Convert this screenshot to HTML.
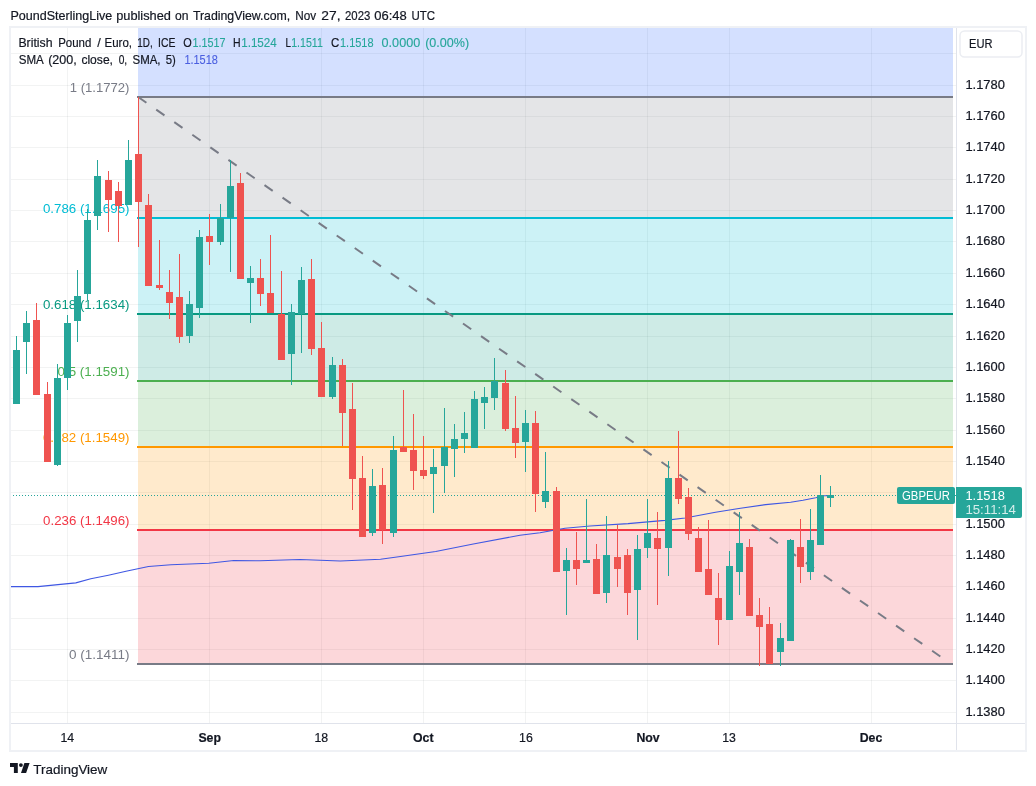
<!DOCTYPE html>
<html lang="en"><head><meta charset="utf-8"><title>GBPEUR chart</title>
<style>html,body{margin:0;padding:0;background:#fff;}body{width:1036px;height:786px;overflow:hidden;position:relative;font-family:"Liberation Sans", Arial, sans-serif;}svg{position:absolute;left:0;top:0;display:block;}text{font-family:"Liberation Sans", Arial, sans-serif;}</style></head><body>
<svg width="1036" height="786" viewBox="0 0 1036 786">
<rect x="0" y="0" width="1036" height="786" fill="#ffffff"/>
<g shape-rendering="crispEdges" stroke="#2a2e39" stroke-opacity="0.06" stroke-width="1">
<line x1="67.5" y1="27" x2="67.5" y2="723"/>
<line x1="209.5" y1="27" x2="209.5" y2="723"/>
<line x1="321.5" y1="27" x2="321.5" y2="723"/>
<line x1="423.5" y1="27" x2="423.5" y2="723"/>
<line x1="525.5" y1="27" x2="525.5" y2="723"/>
<line x1="647.5" y1="27" x2="647.5" y2="723"/>
<line x1="729.5" y1="27" x2="729.5" y2="723"/>
<line x1="871.5" y1="27" x2="871.5" y2="723"/>
<line x1="11" y1="53.5" x2="956" y2="53.5"/>
<line x1="11" y1="85.5" x2="956" y2="85.5"/>
<line x1="11" y1="116.5" x2="956" y2="116.5"/>
<line x1="11" y1="147.5" x2="956" y2="147.5"/>
<line x1="11" y1="179.5" x2="956" y2="179.5"/>
<line x1="11" y1="210.5" x2="956" y2="210.5"/>
<line x1="11" y1="241.5" x2="956" y2="241.5"/>
<line x1="11" y1="273.5" x2="956" y2="273.5"/>
<line x1="11" y1="304.5" x2="956" y2="304.5"/>
<line x1="11" y1="336.5" x2="956" y2="336.5"/>
<line x1="11" y1="367.5" x2="956" y2="367.5"/>
<line x1="11" y1="398.5" x2="956" y2="398.5"/>
<line x1="11" y1="430.5" x2="956" y2="430.5"/>
<line x1="11" y1="461.5" x2="956" y2="461.5"/>
<line x1="11" y1="492.5" x2="956" y2="492.5"/>
<line x1="11" y1="524.5" x2="956" y2="524.5"/>
<line x1="11" y1="555.5" x2="956" y2="555.5"/>
<line x1="11" y1="586.5" x2="956" y2="586.5"/>
<line x1="11" y1="618.5" x2="956" y2="618.5"/>
<line x1="11" y1="649.5" x2="956" y2="649.5"/>
<line x1="11" y1="680.5" x2="956" y2="680.5"/>
<line x1="11" y1="712.5" x2="956" y2="712.5"/>
</g>
<g shape-rendering="crispEdges">
<rect x="138" y="27" width="815" height="70" fill="#2962ff" fill-opacity="0.2"/>
<rect x="138" y="97" width="815" height="121" fill="#787b86" fill-opacity="0.2"/>
<rect x="138" y="218" width="815" height="96" fill="#00bcd4" fill-opacity="0.2"/>
<rect x="138" y="314" width="815" height="67" fill="#089981" fill-opacity="0.2"/>
<rect x="138" y="381" width="815" height="66" fill="#4caf50" fill-opacity="0.2"/>
<rect x="138" y="447" width="815" height="83" fill="#ff9800" fill-opacity="0.2"/>
<rect x="138" y="530" width="815" height="133.70000000000005" fill="#f23645" fill-opacity="0.2"/>
</g>
<g shape-rendering="crispEdges" stroke-width="2">
<line x1="137" y1="97" x2="953" y2="97" stroke="#787b86"/>
<line x1="137" y1="218" x2="953" y2="218" stroke="#00bcd4"/>
<line x1="137" y1="314" x2="953" y2="314" stroke="#089981"/>
<line x1="137" y1="381" x2="953" y2="381" stroke="#4caf50"/>
<line x1="137" y1="447" x2="953" y2="447" stroke="#ff9800"/>
<line x1="137" y1="530" x2="953" y2="530" stroke="#f23645"/>
<line x1="137" y1="664" x2="953" y2="664" stroke="#787b86"/>
</g>
<line x1="138.2" y1="97" x2="949.5" y2="662.9" stroke="#787b86" stroke-width="2" stroke-dasharray="10 12"/>
<text x="69.7" y="92.3" font-size="12.3" fill="#787b86" textLength="59.8" lengthAdjust="spacingAndGlyphs">1 (1.1772)</text>
<text x="42.9" y="213.3" font-size="12.3" fill="#00bcd4" textLength="86.6" lengthAdjust="spacingAndGlyphs">0.786 (1.1695)</text>
<text x="42.9" y="309.3" font-size="12.3" fill="#089981" textLength="86.6" lengthAdjust="spacingAndGlyphs">0.618 (1.1634)</text>
<text x="57.6" y="376.3" font-size="12.3" fill="#4caf50" textLength="71.9" lengthAdjust="spacingAndGlyphs">0.5 (1.1591)</text>
<text x="42.9" y="442.3" font-size="12.3" fill="#ff9800" textLength="86.6" lengthAdjust="spacingAndGlyphs">0.382 (1.1549)</text>
<text x="43.1" y="525.3" font-size="12.3" fill="#f23645" textLength="86.4" lengthAdjust="spacingAndGlyphs">0.236 (1.1496)</text>
<text x="69" y="659.2" font-size="12.3" fill="#787b86" textLength="60.5" lengthAdjust="spacingAndGlyphs">0 (1.1411)</text>
<line x1="13" y1="495.5" x2="956" y2="495.5" stroke="#26a69a" stroke-width="1" stroke-dasharray="1 2" shape-rendering="crispEdges"/>
<polyline fill="none" stroke="#3f57e3" stroke-width="1.1" stroke-linejoin="round" points="10.5,586.6 38,586.6 58,584.6 75.8,582.9 90.8,578.8 108.4,575.2 126,571.2 148.5,566.5 171,564.7 208.8,563.2 233.8,560.5 260,560.8 300,559.5 340.3,561 380.5,559.3 400.5,556.5 435.7,551.5 473.3,544 520,535.2 540,532.7 565,528.2 590,526 628,523.6 665,520.4 685,518.0 715.5,512.2 740.5,508.3 765.6,504.6 790.6,502.3 803,500.3 815.7,497.8 824.4,495.8 830.7,495.8"/>
<g shape-rendering="crispEdges">
<rect x="16" y="336" width="1" height="68" fill="#26a69a"/>
<rect x="13" y="350" width="7" height="54" fill="#26a69a"/>
<rect x="26" y="311" width="1" height="63" fill="#26a69a"/>
<rect x="23" y="323" width="7" height="19" fill="#26a69a"/>
<rect x="36" y="303" width="1" height="92" fill="#ef5350"/>
<rect x="33" y="320" width="7" height="75" fill="#ef5350"/>
<rect x="47" y="382" width="1" height="80" fill="#ef5350"/>
<rect x="44" y="394" width="7" height="68" fill="#ef5350"/>
<rect x="57" y="364" width="1" height="102" fill="#26a69a"/>
<rect x="54" y="378" width="7" height="87" fill="#26a69a"/>
<rect x="67" y="315" width="1" height="75" fill="#26a69a"/>
<rect x="64" y="323" width="7" height="55" fill="#26a69a"/>
<rect x="77" y="270" width="1" height="72" fill="#26a69a"/>
<rect x="74" y="296" width="7" height="25" fill="#26a69a"/>
<rect x="87" y="209" width="1" height="91" fill="#26a69a"/>
<rect x="84" y="220" width="7" height="74" fill="#26a69a"/>
<rect x="97" y="160" width="1" height="70" fill="#26a69a"/>
<rect x="94" y="176" width="7" height="40" fill="#26a69a"/>
<rect x="108" y="171" width="1" height="61" fill="#ef5350"/>
<rect x="105" y="180" width="7" height="20" fill="#ef5350"/>
<rect x="118" y="182" width="1" height="60" fill="#ef5350"/>
<rect x="115" y="191" width="7" height="15" fill="#ef5350"/>
<rect x="128" y="140" width="1" height="65" fill="#26a69a"/>
<rect x="125" y="160" width="7" height="45" fill="#26a69a"/>
<rect x="138" y="97" width="1" height="150" fill="#ef5350"/>
<rect x="135" y="154" width="7" height="48" fill="#ef5350"/>
<rect x="148" y="194" width="1" height="92" fill="#ef5350"/>
<rect x="145" y="205" width="7" height="81" fill="#ef5350"/>
<rect x="159" y="240" width="1" height="50" fill="#ef5350"/>
<rect x="156" y="285" width="7" height="3" fill="#ef5350"/>
<rect x="169" y="270" width="1" height="49" fill="#ef5350"/>
<rect x="166" y="292" width="7" height="11" fill="#ef5350"/>
<rect x="179" y="254" width="1" height="89" fill="#ef5350"/>
<rect x="176" y="297" width="7" height="40" fill="#ef5350"/>
<rect x="189" y="291" width="1" height="52" fill="#26a69a"/>
<rect x="186" y="304" width="7" height="32" fill="#26a69a"/>
<rect x="199" y="230" width="1" height="88" fill="#26a69a"/>
<rect x="196" y="237" width="7" height="71" fill="#26a69a"/>
<rect x="209" y="214" width="1" height="51" fill="#ef5350"/>
<rect x="206" y="236" width="7" height="6" fill="#ef5350"/>
<rect x="220" y="204" width="1" height="41" fill="#26a69a"/>
<rect x="217" y="218" width="7" height="24" fill="#26a69a"/>
<rect x="230" y="160" width="1" height="112" fill="#26a69a"/>
<rect x="227" y="186" width="7" height="32" fill="#26a69a"/>
<rect x="240" y="173" width="1" height="106" fill="#ef5350"/>
<rect x="237" y="183" width="7" height="96" fill="#ef5350"/>
<rect x="250" y="266" width="1" height="57" fill="#26a69a"/>
<rect x="247" y="278" width="7" height="5" fill="#26a69a"/>
<rect x="260" y="259" width="1" height="47" fill="#ef5350"/>
<rect x="257" y="278" width="7" height="16" fill="#ef5350"/>
<rect x="270" y="235" width="1" height="78" fill="#ef5350"/>
<rect x="267" y="293" width="7" height="20" fill="#ef5350"/>
<rect x="281" y="271" width="1" height="89" fill="#ef5350"/>
<rect x="278" y="314" width="7" height="46" fill="#ef5350"/>
<rect x="291" y="304" width="1" height="81" fill="#26a69a"/>
<rect x="288" y="312" width="7" height="42" fill="#26a69a"/>
<rect x="301" y="267" width="1" height="86" fill="#26a69a"/>
<rect x="298" y="280" width="7" height="34" fill="#26a69a"/>
<rect x="311" y="259" width="1" height="96" fill="#ef5350"/>
<rect x="308" y="279" width="7" height="70" fill="#ef5350"/>
<rect x="321" y="322" width="1" height="75" fill="#ef5350"/>
<rect x="318" y="348" width="7" height="49" fill="#ef5350"/>
<rect x="332" y="357" width="1" height="42" fill="#26a69a"/>
<rect x="329" y="365" width="7" height="32" fill="#26a69a"/>
<rect x="342" y="359" width="1" height="87" fill="#ef5350"/>
<rect x="339" y="365" width="7" height="48" fill="#ef5350"/>
<rect x="352" y="383" width="1" height="127" fill="#ef5350"/>
<rect x="349" y="409" width="7" height="70" fill="#ef5350"/>
<rect x="362" y="456" width="1" height="81" fill="#ef5350"/>
<rect x="359" y="478" width="7" height="59" fill="#ef5350"/>
<rect x="372" y="469" width="1" height="67" fill="#26a69a"/>
<rect x="369" y="486" width="7" height="47" fill="#26a69a"/>
<rect x="382" y="468" width="1" height="76" fill="#ef5350"/>
<rect x="379" y="485" width="7" height="45" fill="#ef5350"/>
<rect x="393" y="436" width="1" height="101" fill="#26a69a"/>
<rect x="390" y="450" width="7" height="83" fill="#26a69a"/>
<rect x="403" y="390" width="1" height="62" fill="#ef5350"/>
<rect x="400" y="447" width="7" height="5" fill="#ef5350"/>
<rect x="413" y="414" width="1" height="76" fill="#ef5350"/>
<rect x="410" y="450" width="7" height="21" fill="#ef5350"/>
<rect x="423" y="436" width="1" height="43" fill="#ef5350"/>
<rect x="420" y="470" width="7" height="6" fill="#ef5350"/>
<rect x="433" y="449" width="1" height="64" fill="#26a69a"/>
<rect x="430" y="467" width="7" height="7" fill="#26a69a"/>
<rect x="444" y="408" width="1" height="85" fill="#26a69a"/>
<rect x="441" y="447" width="7" height="19" fill="#26a69a"/>
<rect x="454" y="424" width="1" height="53" fill="#26a69a"/>
<rect x="451" y="439" width="7" height="10" fill="#26a69a"/>
<rect x="464" y="412" width="1" height="41" fill="#26a69a"/>
<rect x="461" y="433" width="7" height="6" fill="#26a69a"/>
<rect x="474" y="391" width="1" height="57" fill="#26a69a"/>
<rect x="471" y="399" width="7" height="49" fill="#26a69a"/>
<rect x="484" y="387" width="1" height="42" fill="#26a69a"/>
<rect x="481" y="397" width="7" height="6" fill="#26a69a"/>
<rect x="494" y="358" width="1" height="52" fill="#26a69a"/>
<rect x="491" y="381" width="7" height="17" fill="#26a69a"/>
<rect x="505" y="370" width="1" height="61" fill="#ef5350"/>
<rect x="502" y="383" width="7" height="46" fill="#ef5350"/>
<rect x="515" y="396" width="1" height="62" fill="#ef5350"/>
<rect x="512" y="428" width="7" height="15" fill="#ef5350"/>
<rect x="525" y="410" width="1" height="62" fill="#26a69a"/>
<rect x="522" y="423" width="7" height="19" fill="#26a69a"/>
<rect x="535" y="411" width="1" height="101" fill="#ef5350"/>
<rect x="532" y="423" width="7" height="71" fill="#ef5350"/>
<rect x="545" y="452" width="1" height="56" fill="#26a69a"/>
<rect x="542" y="491" width="7" height="11" fill="#26a69a"/>
<rect x="556" y="487" width="1" height="85" fill="#ef5350"/>
<rect x="553" y="491" width="7" height="81" fill="#ef5350"/>
<rect x="566" y="548" width="1" height="67" fill="#26a69a"/>
<rect x="563" y="560" width="7" height="11" fill="#26a69a"/>
<rect x="576" y="532" width="1" height="53" fill="#ef5350"/>
<rect x="573" y="560" width="7" height="9" fill="#ef5350"/>
<rect x="586" y="499" width="1" height="64" fill="#26a69a"/>
<rect x="583" y="560" width="7" height="3" fill="#26a69a"/>
<rect x="596" y="544" width="1" height="50" fill="#ef5350"/>
<rect x="593" y="559" width="7" height="35" fill="#ef5350"/>
<rect x="606" y="516" width="1" height="87" fill="#26a69a"/>
<rect x="603" y="555" width="7" height="38" fill="#26a69a"/>
<rect x="617" y="525" width="1" height="62" fill="#ef5350"/>
<rect x="614" y="557" width="7" height="12" fill="#ef5350"/>
<rect x="627" y="549" width="1" height="66" fill="#ef5350"/>
<rect x="624" y="555" width="7" height="38" fill="#ef5350"/>
<rect x="637" y="535" width="1" height="105" fill="#26a69a"/>
<rect x="634" y="549" width="7" height="41" fill="#26a69a"/>
<rect x="647" y="499" width="1" height="59" fill="#26a69a"/>
<rect x="644" y="533" width="7" height="15" fill="#26a69a"/>
<rect x="657" y="512" width="1" height="93" fill="#ef5350"/>
<rect x="654" y="538" width="7" height="11" fill="#ef5350"/>
<rect x="668" y="461" width="1" height="115" fill="#26a69a"/>
<rect x="665" y="478" width="7" height="70" fill="#26a69a"/>
<rect x="678" y="431" width="1" height="73" fill="#ef5350"/>
<rect x="675" y="478" width="7" height="21" fill="#ef5350"/>
<rect x="688" y="488" width="1" height="52" fill="#ef5350"/>
<rect x="685" y="497" width="7" height="37" fill="#ef5350"/>
<rect x="698" y="527" width="1" height="45" fill="#ef5350"/>
<rect x="695" y="538" width="7" height="34" fill="#ef5350"/>
<rect x="708" y="520" width="1" height="75" fill="#ef5350"/>
<rect x="705" y="569" width="7" height="26" fill="#ef5350"/>
<rect x="718" y="573" width="1" height="72" fill="#ef5350"/>
<rect x="715" y="598" width="7" height="22" fill="#ef5350"/>
<rect x="729" y="551" width="1" height="69" fill="#26a69a"/>
<rect x="726" y="566" width="7" height="54" fill="#26a69a"/>
<rect x="739" y="512" width="1" height="83" fill="#26a69a"/>
<rect x="736" y="543" width="7" height="29" fill="#26a69a"/>
<rect x="749" y="539" width="1" height="77" fill="#ef5350"/>
<rect x="746" y="547" width="7" height="69" fill="#ef5350"/>
<rect x="759" y="598" width="1" height="68" fill="#ef5350"/>
<rect x="756" y="615" width="7" height="12" fill="#ef5350"/>
<rect x="769" y="607" width="1" height="57" fill="#ef5350"/>
<rect x="766" y="624" width="7" height="40" fill="#ef5350"/>
<rect x="780" y="623" width="1" height="43" fill="#26a69a"/>
<rect x="777" y="638" width="7" height="14" fill="#26a69a"/>
<rect x="790" y="539" width="1" height="102" fill="#26a69a"/>
<rect x="787" y="540" width="7" height="101" fill="#26a69a"/>
<rect x="800" y="519" width="1" height="64" fill="#ef5350"/>
<rect x="797" y="547" width="7" height="20" fill="#ef5350"/>
<rect x="810" y="509" width="1" height="71" fill="#26a69a"/>
<rect x="807" y="540" width="7" height="32" fill="#26a69a"/>
<rect x="820" y="475" width="1" height="70" fill="#26a69a"/>
<rect x="817" y="495" width="7" height="50" fill="#26a69a"/>
<rect x="830" y="486" width="1" height="21" fill="#26a69a"/>
<rect x="827" y="495" width="7" height="3" fill="#26a69a"/>
</g>
<rect x="10" y="27" width="1016" height="724" fill="none" stroke="#eff1f5" stroke-width="2" shape-rendering="crispEdges"/>
<g shape-rendering="crispEdges" fill="none" stroke="#e0e3eb" stroke-width="1">
<line x1="956.5" y1="28" x2="956.5" y2="750"/>
<line x1="11" y1="723.5" x2="1025" y2="723.5"/>
</g>
<text x="965.4" y="89" font-size="12.3" fill="#131722" stroke="#131722" stroke-width="0.2" textLength="39.5" lengthAdjust="spacingAndGlyphs">1.1780</text>
<text x="965.4" y="120" font-size="12.3" fill="#131722" stroke="#131722" stroke-width="0.2" textLength="39.5" lengthAdjust="spacingAndGlyphs">1.1760</text>
<text x="965.4" y="151" font-size="12.3" fill="#131722" stroke="#131722" stroke-width="0.2" textLength="39.5" lengthAdjust="spacingAndGlyphs">1.1740</text>
<text x="965.4" y="183" font-size="12.3" fill="#131722" stroke="#131722" stroke-width="0.2" textLength="39.5" lengthAdjust="spacingAndGlyphs">1.1720</text>
<text x="965.4" y="214" font-size="12.3" fill="#131722" stroke="#131722" stroke-width="0.2" textLength="39.5" lengthAdjust="spacingAndGlyphs">1.1700</text>
<text x="965.4" y="245" font-size="12.3" fill="#131722" stroke="#131722" stroke-width="0.2" textLength="39.5" lengthAdjust="spacingAndGlyphs">1.1680</text>
<text x="965.4" y="277" font-size="12.3" fill="#131722" stroke="#131722" stroke-width="0.2" textLength="39.5" lengthAdjust="spacingAndGlyphs">1.1660</text>
<text x="965.4" y="308" font-size="12.3" fill="#131722" stroke="#131722" stroke-width="0.2" textLength="39.5" lengthAdjust="spacingAndGlyphs">1.1640</text>
<text x="965.4" y="340" font-size="12.3" fill="#131722" stroke="#131722" stroke-width="0.2" textLength="39.5" lengthAdjust="spacingAndGlyphs">1.1620</text>
<text x="965.4" y="371" font-size="12.3" fill="#131722" stroke="#131722" stroke-width="0.2" textLength="39.5" lengthAdjust="spacingAndGlyphs">1.1600</text>
<text x="965.4" y="402" font-size="12.3" fill="#131722" stroke="#131722" stroke-width="0.2" textLength="39.5" lengthAdjust="spacingAndGlyphs">1.1580</text>
<text x="965.4" y="434" font-size="12.3" fill="#131722" stroke="#131722" stroke-width="0.2" textLength="39.5" lengthAdjust="spacingAndGlyphs">1.1560</text>
<text x="965.4" y="465" font-size="12.3" fill="#131722" stroke="#131722" stroke-width="0.2" textLength="39.5" lengthAdjust="spacingAndGlyphs">1.1540</text>
<text x="965.4" y="496" font-size="12.3" fill="#131722" stroke="#131722" stroke-width="0.2" textLength="39.5" lengthAdjust="spacingAndGlyphs">1.1520</text>
<text x="965.4" y="528" font-size="12.3" fill="#131722" stroke="#131722" stroke-width="0.2" textLength="39.5" lengthAdjust="spacingAndGlyphs">1.1500</text>
<text x="965.4" y="559" font-size="12.3" fill="#131722" stroke="#131722" stroke-width="0.2" textLength="39.5" lengthAdjust="spacingAndGlyphs">1.1480</text>
<text x="965.4" y="590" font-size="12.3" fill="#131722" stroke="#131722" stroke-width="0.2" textLength="39.5" lengthAdjust="spacingAndGlyphs">1.1460</text>
<text x="965.4" y="622" font-size="12.3" fill="#131722" stroke="#131722" stroke-width="0.2" textLength="39.5" lengthAdjust="spacingAndGlyphs">1.1440</text>
<text x="965.4" y="653" font-size="12.3" fill="#131722" stroke="#131722" stroke-width="0.2" textLength="39.5" lengthAdjust="spacingAndGlyphs">1.1420</text>
<text x="965.4" y="684" font-size="12.3" fill="#131722" stroke="#131722" stroke-width="0.2" textLength="39.5" lengthAdjust="spacingAndGlyphs">1.1400</text>
<text x="965.4" y="716" font-size="12.3" fill="#131722" stroke="#131722" stroke-width="0.2" textLength="39.5" lengthAdjust="spacingAndGlyphs">1.1380</text>
<rect x="960" y="31" width="62" height="26" rx="4.5" ry="4.5" fill="#fff" stroke="#ebedf2" stroke-width="1.5"/>
<text x="969" y="48.3" font-size="12.3" fill="#131722" stroke="#131722" stroke-width="0.2" textLength="23.5" lengthAdjust="spacingAndGlyphs">EUR</text>
<rect x="897" y="487" width="58" height="17" rx="2" fill="#26a69a"/>
<text x="902" y="499.8" font-size="12.3" fill="#ffffff" textLength="48" lengthAdjust="spacingAndGlyphs">GBPEUR</text>
<path d="M956 487H1020a2 2 0 0 1 2 2V516a2 2 0 0 1-2 2H956z" fill="#26a69a"/>
<text x="965.4" y="499.8" font-size="12.3" fill="#ffffff" textLength="39.5" lengthAdjust="spacingAndGlyphs">1.1518</text>
<text x="965.4" y="513.6" font-size="12.3" fill="#ffffff" fill-opacity="0.8" textLength="50.5" lengthAdjust="spacingAndGlyphs">15:11:14</text>
<text x="67.3" y="742" font-size="12.3" text-anchor="middle" fill="#131722" stroke="#131722" stroke-width="0.2">14</text>
<text x="209.7" y="742" font-size="12.3" text-anchor="middle" fill="#131722" stroke="#131722" stroke-width="0.2" font-weight="bold">Sep</text>
<text x="321.3" y="742" font-size="12.3" text-anchor="middle" fill="#131722" stroke="#131722" stroke-width="0.2">18</text>
<text x="423.3" y="742" font-size="12.3" text-anchor="middle" fill="#131722" stroke="#131722" stroke-width="0.2" font-weight="bold">Oct</text>
<text x="525.9" y="742" font-size="12.3" text-anchor="middle" fill="#131722" stroke="#131722" stroke-width="0.2">16</text>
<text x="648" y="742" font-size="12.3" text-anchor="middle" fill="#131722" stroke="#131722" stroke-width="0.2" font-weight="bold">Nov</text>
<text x="729" y="742" font-size="12.3" text-anchor="middle" fill="#131722" stroke="#131722" stroke-width="0.2">13</text>
<text x="871" y="742" font-size="12.3" text-anchor="middle" fill="#131722" stroke="#131722" stroke-width="0.2" font-weight="bold">Dec</text>
<text x="10.5" y="19.7" font-size="12.6" fill="#131722" stroke="#131722" stroke-width="0.2" textLength="101.7" lengthAdjust="spacingAndGlyphs">PoundSterlingLive</text>
<text x="116.2" y="19.7" font-size="12.6" fill="#131722" stroke="#131722" stroke-width="0.2" textLength="54.7" lengthAdjust="spacingAndGlyphs">published</text>
<text x="175" y="19.7" font-size="12.6" fill="#131722" stroke="#131722" stroke-width="0.2" textLength="13.5" lengthAdjust="spacingAndGlyphs">on</text>
<text x="192.9" y="19.7" font-size="12.6" fill="#131722" stroke="#131722" stroke-width="0.2" textLength="97.3" lengthAdjust="spacingAndGlyphs">TradingView.com,</text>
<text x="295.3" y="19.7" font-size="12.6" fill="#131722" stroke="#131722" stroke-width="0.2" textLength="20.9" lengthAdjust="spacingAndGlyphs">Nov</text>
<text x="321.3" y="19.7" font-size="12.6" fill="#131722" stroke="#131722" stroke-width="0.2" textLength="19.2" lengthAdjust="spacingAndGlyphs">27,</text>
<text x="345" y="19.7" font-size="12.6" fill="#131722" stroke="#131722" stroke-width="0.2" textLength="25.3" lengthAdjust="spacingAndGlyphs">2023</text>
<text x="374.3" y="19.7" font-size="12.6" fill="#131722" stroke="#131722" stroke-width="0.2" textLength="32.5" lengthAdjust="spacingAndGlyphs">06:48</text>
<text x="411.5" y="19.7" font-size="12.6" fill="#131722" stroke="#131722" stroke-width="0.2" textLength="23.6" lengthAdjust="spacingAndGlyphs">UTC</text>
<text x="18.4" y="46.9" font-size="12.6" fill="#131722" stroke="#131722" stroke-width="0.2" textLength="34.1" lengthAdjust="spacingAndGlyphs">British</text>
<text x="58.2" y="46.9" font-size="12.6" fill="#131722" stroke="#131722" stroke-width="0.2" textLength="33.2" lengthAdjust="spacingAndGlyphs">Pound</text>
<text x="97.30000000000001" y="46.9" font-size="12.6" fill="#131722" stroke="#131722" stroke-width="0.2">/</text>
<text x="104.5" y="46.9" font-size="12.6" fill="#131722" stroke="#131722" stroke-width="0.2" textLength="27.5" lengthAdjust="spacingAndGlyphs">Euro,</text>
<text x="137.3" y="46.9" font-size="12.6" fill="#131722" stroke="#131722" stroke-width="0.2" textLength="15.4" lengthAdjust="spacingAndGlyphs">1D,</text>
<text x="158" y="46.9" font-size="12.6" fill="#131722" stroke="#131722" stroke-width="0.2" textLength="17.4" lengthAdjust="spacingAndGlyphs">ICE</text>
<text x="183.2" y="46.9" font-size="12.6" fill="#131722" stroke="#131722" stroke-width="0.2" textLength="8.5" lengthAdjust="spacingAndGlyphs">O</text>
<text x="192.4" y="46.9" font-size="12.6" fill="#26a69a" stroke="#26a69a" stroke-width="0.12" textLength="33.0" lengthAdjust="spacingAndGlyphs">1.1517</text>
<text x="233.1" y="46.9" font-size="12.6" fill="#131722" stroke="#131722" stroke-width="0.2" textLength="7.6" lengthAdjust="spacingAndGlyphs">H</text>
<text x="241.2" y="46.9" font-size="12.6" fill="#26a69a" stroke="#26a69a" stroke-width="0.12" textLength="35.6" lengthAdjust="spacingAndGlyphs">1.1524</text>
<text x="285.5" y="46.9" font-size="12.6" fill="#131722" stroke="#131722" stroke-width="0.2" textLength="5.5" lengthAdjust="spacingAndGlyphs">L</text>
<text x="291.2" y="46.9" font-size="12.6" fill="#26a69a" stroke="#26a69a" stroke-width="0.12" textLength="31.7" lengthAdjust="spacingAndGlyphs">1.1511</text>
<text x="331" y="46.9" font-size="12.6" fill="#131722" stroke="#131722" stroke-width="0.2" textLength="8.3" lengthAdjust="spacingAndGlyphs">C</text>
<text x="340" y="46.9" font-size="12.6" fill="#26a69a" stroke="#26a69a" stroke-width="0.12" textLength="33.5" lengthAdjust="spacingAndGlyphs">1.1518</text>
<text x="381.6" y="46.9" font-size="12.6" fill="#26a69a" stroke="#26a69a" stroke-width="0.12" textLength="38.6" lengthAdjust="spacingAndGlyphs">0.0000</text>
<text x="425.2" y="46.9" font-size="12.6" fill="#26a69a" stroke="#26a69a" stroke-width="0.12" textLength="44.0" lengthAdjust="spacingAndGlyphs">(0.00%)</text>
<text x="18.7" y="64.2" font-size="12.6" fill="#131722" stroke="#131722" stroke-width="0.2" textLength="25.1" lengthAdjust="spacingAndGlyphs">SMA</text>
<text x="48.2" y="64.2" font-size="12.6" fill="#131722" stroke="#131722" stroke-width="0.2" textLength="28.6" lengthAdjust="spacingAndGlyphs">(200,</text>
<text x="81.4" y="64.2" font-size="12.6" fill="#131722" stroke="#131722" stroke-width="0.2" textLength="31.6" lengthAdjust="spacingAndGlyphs">close,</text>
<text x="118.7" y="64.2" font-size="12.6" fill="#131722" stroke="#131722" stroke-width="0.2" textLength="8.5" lengthAdjust="spacingAndGlyphs">0,</text>
<text x="132.5" y="64.2" font-size="12.6" fill="#131722" stroke="#131722" stroke-width="0.2" textLength="28.0" lengthAdjust="spacingAndGlyphs">SMA,</text>
<text x="165.8" y="64.2" font-size="12.6" fill="#131722" stroke="#131722" stroke-width="0.2" textLength="10.1" lengthAdjust="spacingAndGlyphs">5)</text>
<text x="184.4" y="64.2" font-size="12.6" fill="#4a5fe0" stroke="#4a5fe0" stroke-width="0.12" textLength="33.5" lengthAdjust="spacingAndGlyphs">1.1518</text>
<g fill="#131722"><path d="M10 763h7.8v9.9h-3.9v-6H10z"/><circle cx="20.9" cy="765.05" r="1.9"/><path d="M24.4 763h5.2l-3.5 9.9h-5.1z"/></g>
<text x="33.3" y="773.6" font-size="13.2" fill="#131722" stroke="#131722" stroke-width="0.2" textLength="74" lengthAdjust="spacingAndGlyphs">TradingView</text>
</svg></body></html>
